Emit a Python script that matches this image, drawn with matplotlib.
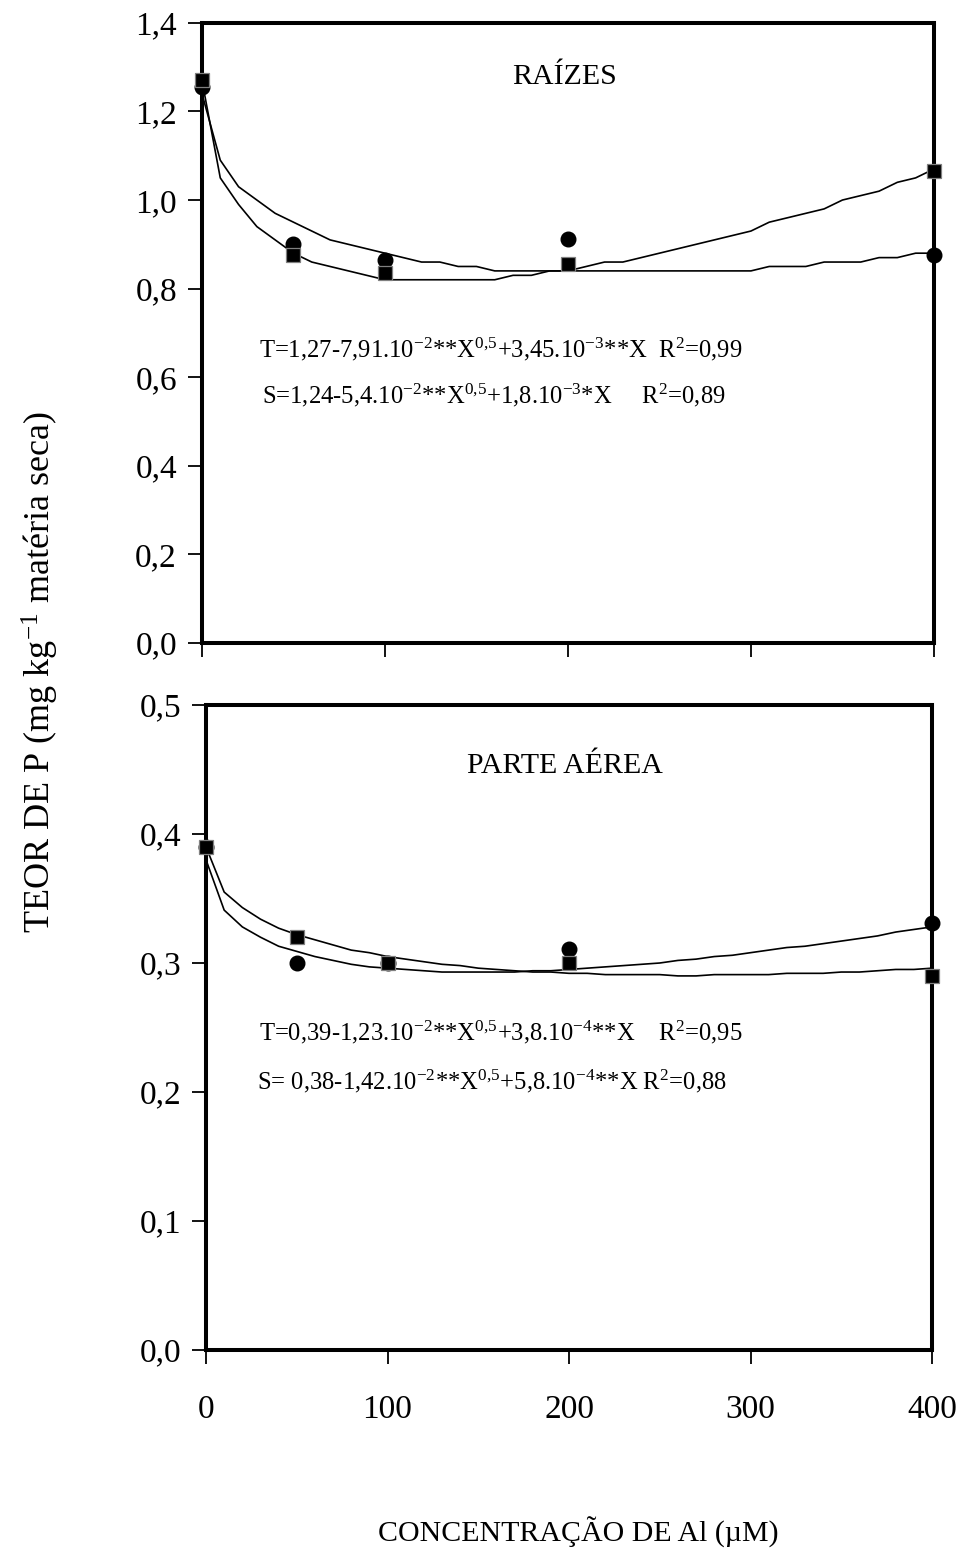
import numpy as np
import matplotlib
matplotlib.use("Agg")
import matplotlib.pyplot as plt

plt.rcParams['font.family'] = ['Liberation Serif', 'DejaVu Serif']
plt.rcParams['mathtext.fontset'] = 'custom'
plt.rcParams['mathtext.rm'] = 'Liberation Serif'
plt.rcParams['mathtext.it'] = 'Liberation Serif'

# Al concentration (uM) of the measured points
al_pts = [0, 50, 100, 200, 400]

# measured P contents, roots
raiz_T = [1.27, 0.875, 0.835, 0.855, 1.065]
raiz_S = [1.255, 0.90, 0.865, 0.912, 0.875]
# measured P contents, shoots
aerea_T = [0.39, 0.32, 0.30, 0.30, 0.29]
aerea_S = [0.39, 0.30, 0.30, 0.311, 0.331]

# fitted curves tabulated every 10 uM
al_fit = list(range(0, 410, 10))
raiz_T_fit = [1.27, 1.05, 0.99, 0.94, 0.91, 0.88, 0.86, 0.85, 0.84, 0.83,
              0.82, 0.82, 0.82, 0.82, 0.82, 0.82, 0.82, 0.83, 0.83, 0.84,
              0.84, 0.85, 0.86, 0.86, 0.87, 0.88, 0.89, 0.90, 0.91, 0.92,
              0.93, 0.95, 0.96, 0.97, 0.98, 1.00, 1.01, 1.02, 1.04, 1.05,
              1.07]
raiz_S_fit = [1.24, 1.09, 1.03, 1.00, 0.97, 0.95, 0.93, 0.91, 0.90, 0.89,
              0.88, 0.87, 0.86, 0.86, 0.85, 0.85, 0.84, 0.84, 0.84, 0.84,
              0.84, 0.84, 0.84, 0.84, 0.84, 0.84, 0.84, 0.84, 0.84, 0.84,
              0.84, 0.85, 0.85, 0.85, 0.86, 0.86, 0.86, 0.87, 0.87, 0.88,
              0.88]
aerea_T_fit = [0.390, 0.355, 0.343, 0.334, 0.327, 0.322, 0.318, 0.314, 0.310, 0.308,
               0.305, 0.303, 0.301, 0.299, 0.298, 0.296, 0.295, 0.294, 0.293, 0.293,
               0.292, 0.292, 0.291, 0.291, 0.291, 0.291, 0.290, 0.290, 0.291, 0.291,
               0.291, 0.291, 0.292, 0.292, 0.292, 0.293, 0.293, 0.294, 0.295, 0.295,
               0.296]
aerea_S_fit = [0.380, 0.341, 0.328, 0.320, 0.313, 0.309, 0.305, 0.302, 0.299, 0.297,
               0.296, 0.295, 0.294, 0.293, 0.293, 0.293, 0.293, 0.293, 0.294, 0.294,
               0.295, 0.296, 0.297, 0.298, 0.299, 0.300, 0.302, 0.303, 0.305, 0.306,
               0.308, 0.310, 0.312, 0.313, 0.315, 0.317, 0.319, 0.321, 0.324, 0.326,
               0.328]

eq_raiz = ["T=1,27-7,91.10$^{-2}$**X$^{0{,}5}$+3,45.10$^{-3}$**X  R$^{2}$=0,99",
           "S=1,24-5,4.10$^{-2}$**X$^{0{,}5}$+1,8.10$^{-3}$*X     R$^{2}$=0,89"]
eq_aerea = ["T=0,39-1,23.10$^{-2}$**X$^{0{,}5}$+3,8.10$^{-4}$**X    R$^{2}$=0,95",
            "S= 0,38-1,42.10$^{-2}$**X$^{0{,}5}$+5,8.10$^{-4}$**X R$^{2}$=0,88"]

fig = plt.figure(figsize=(9.65, 15.56), dpi=100)
ax1 = fig.add_axes([0.2093, 0.5868, 0.7585, 0.3985])
ax2 = fig.add_axes([0.2135, 0.1324, 0.7523, 0.4145])


def style(ax, ylim, yticks, labels, xlabels):
    ax.set_xlim(0, 400)
    ax.set_ylim(*ylim)
    ax.set_yticks(yticks)
    ax.set_yticklabels(labels)
    ax.set_xticks([0, 100, 200, 300, 400])
    if xlabels:
        ax.set_xticklabels(['0', '100', '200', '300', '400'])
    else:
        ax.set_xticklabels([])
    for s in ax.spines.values():
        s.set_linewidth(2.9)
    ax.tick_params(direction='out', length=10, width=1.3, labelsize=24, pad=8)
    ax.tick_params(axis='x', pad=22)


def draw(ax, T, S, Tfit, Sfit):
    ax.plot(al_fit, Tfit, color='k', lw=1.2, clip_on=False)
    ax.plot(al_fit, Sfit, color='k', lw=1.2, clip_on=False)
    ax.plot(al_pts, S, 'o', color='k', ms=10.5, clip_on=False, zorder=4)
    ax.plot(al_pts, T, 's', mfc='k', mec='0.5', mew=0.9, ms=10, clip_on=False, zorder=5)


draw(ax1, raiz_T, raiz_S, raiz_T_fit, raiz_S_fit)
style(ax1, (0, 1.4), np.arange(0, 1.41, 0.2),
      ['0,0', '0,2', '0,4', '0,6', '0,8', '1,0', '1,2', '1,4'], False)
ax1.text(198, 1.278, "RAÍZES", fontsize=21.5, ha='center', va='center')
ax1.text(31, 0.664, eq_raiz[0], fontsize=17.7, ha='left', va='center')
ax1.text(33, 0.558, eq_raiz[1], fontsize=17.7, ha='left', va='center')

draw(ax2, aerea_T, aerea_S, aerea_T_fit, aerea_S_fit)
style(ax2, (0, 0.5), np.arange(0, 0.51, 0.1),
      ['0,0', '0,1', '0,2', '0,3', '0,4', '0,5'], True)
ax2.text(198, 0.4527, "PARTE AÉREA", fontsize=21.5, ha='center', va='center')
ax2.text(29, 0.2465, eq_aerea[0], fontsize=17.7, ha='left', va='center')
ax2.text(28, 0.2085, eq_aerea[1], fontsize=17.7, ha='left', va='center')

fig.text(40 / 965, 1 - 672 / 1556, "TEOR DE P (mg kg$^{-1}$ matéria seca)",
         rotation=90, fontsize=26, ha='center', va='center')
fig.text(578 / 965, 1 - 1532 / 1556, "CONCENTRAÇÃO DE Al (µM)",
         fontsize=21.5, ha='center', va='center')

fig.savefig("out.png", dpi=100)
